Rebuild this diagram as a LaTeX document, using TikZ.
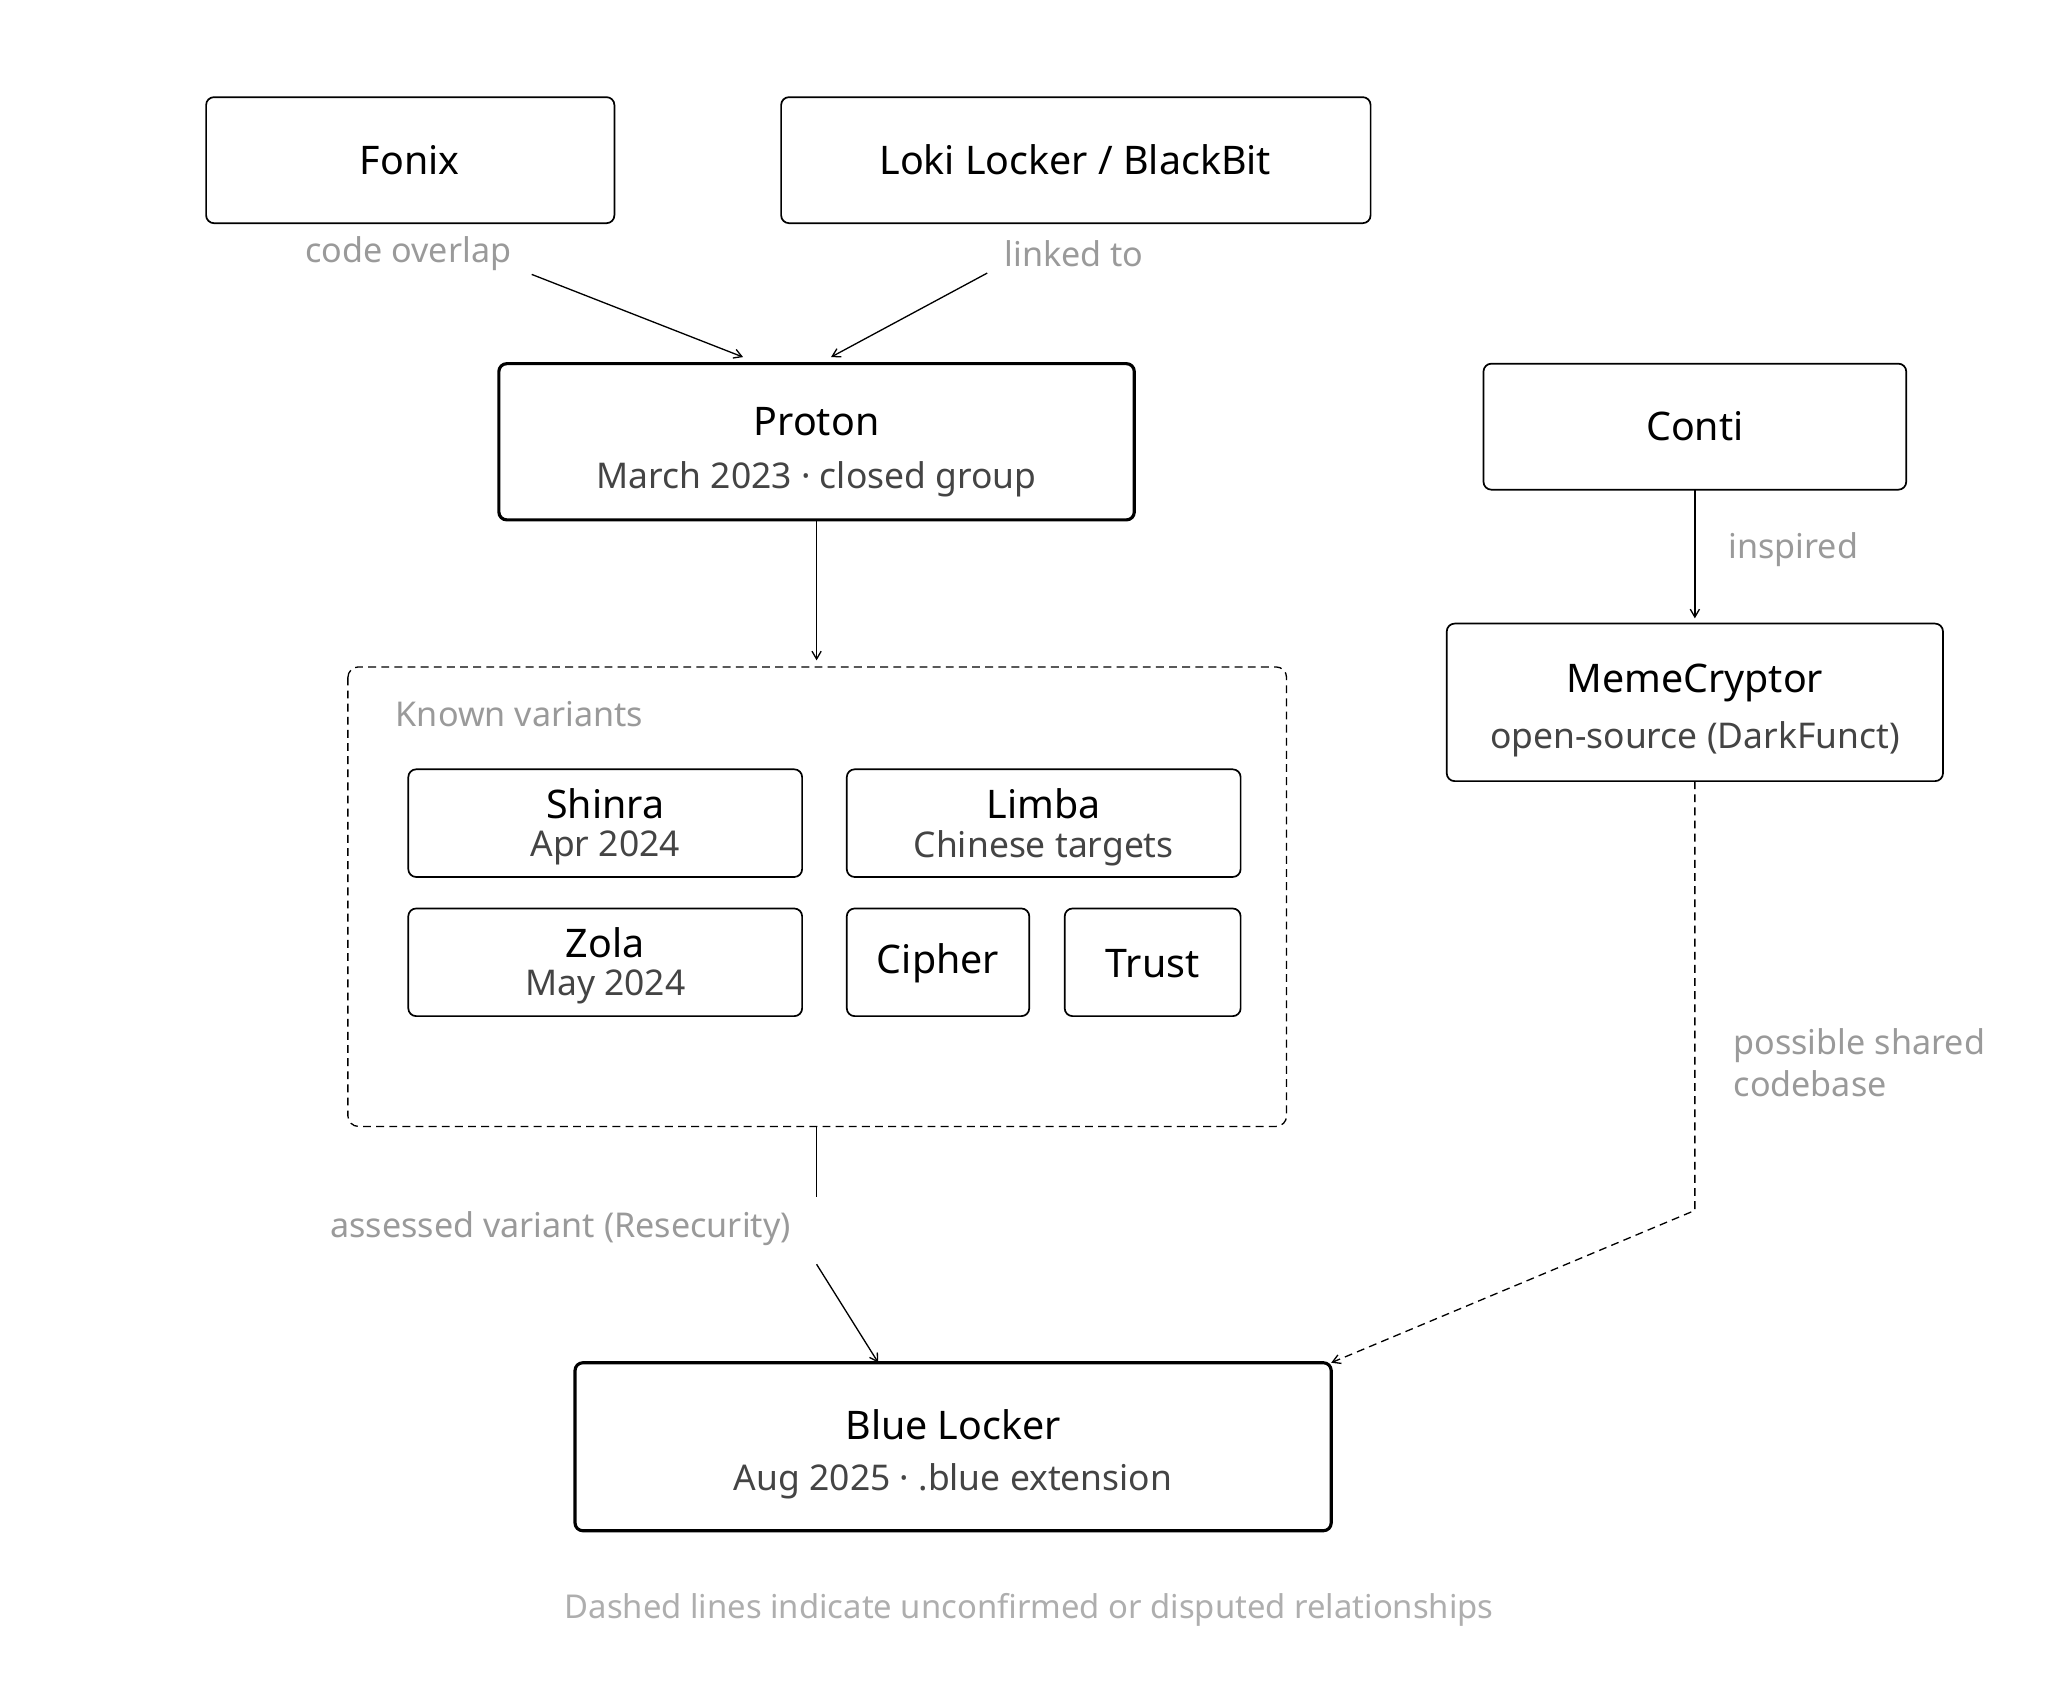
\documentclass[tikz,border=0pt]{standalone}
\usepackage{fontspec}
\setmainfont{Noto Sans}
\usetikzlibrary{arrows.meta}
\definecolor{lbl}{HTML}{9A9A9A}
\definecolor{sub}{HTML}{444444}
\tikzset{
 box/.style={draw=black,line width=1.3pt,rounded corners=6pt},
 bigbox/.style={draw=black,line width=2.4pt,rounded corners=6pt},
 ttl/.style={font=\fontsize{30}{34}\selectfont\bfseries\color{black}},
 subt/.style={font=\fontsize{27}{31}\selectfont\color{sub}},
 lab/.style={font=\fontsize{26}{32}\selectfont\color{lbl}},
 arr/.style={draw=black,line width=1pt,-{Straight Barb[length=6pt,width=7pt]}},
}
\begin{document}
\begin{tikzpicture}[x=1pt,y=-1pt]
\useasboundingbox (0,0) rectangle (1560,1285);
% top boxes
\draw[box] (157,74) rectangle (468,170); \node[ttl] (fonix) at (312,122) {Fonix};
\draw[box] (595,74) rectangle (1044,170); \node[ttl] (loki) at (819,122) {Loki Locker / BlackBit};
\node[lab] (l1) at (311,193) {code overlap};
\node[lab] (l2) at (818,193) {linked to};
% proton
\draw[bigbox] (380,277) rectangle (864,396);
\node[ttl] (proton) at (622,321) {Proton};
\node[subt] at (622,365) {March 2023 · closed group};
\coordinate (pt1) at (566,272); \coordinate (pt2) at (633,272);
\coordinate (s1) at (405,209); \coordinate (s2) at (752,208);
\draw[arr] (s1) -- (pt1); \draw[arr] (s2) -- (pt2);
% conti
\draw[box] (1130,277) rectangle (1452,373); \node[ttl] (conti) at (1291,325) {Conti};
\node[lab,anchor=west] at (1313,419) {inspired};
\coordinate (c1) at (1291,373); \coordinate (m1) at (1291,471);
\draw[arr] (c1) -- (m1);
\draw[box] (1102,475) rectangle (1480,595);
\node[ttl] (meme) at (1291,520) {MemeCryptor};
\node[subt] at (1291,563) {open-source (DarkFunct)};
% container
\draw[line width=1pt,dash pattern=on 6pt off 4pt,rounded corners=8pt] (265,508) rectangle (980,858);
\node[lab,anchor=west] at (298,544) {Known variants};
\coordinate (p1) at (622,396); \coordinate (k1) at (622,503);
\draw[arr] (p1) -- (k1);
\draw[box] (311,586) rectangle (611,668);
\node[ttl] (shinra) at (461,612) {Shinra}; \node[subt] at (461,646) {Apr 2024};
\draw[box] (645,586) rectangle (945,668);
\node[ttl] (limba) at (795,612) {Limba}; \node[subt] at (795,646) {Chinese targets};
\draw[box] (311,692) rectangle (611,774);
\node[ttl] (zola) at (461,718) {Zola}; \node[subt] at (461,752) {May 2024};
\draw[box] (645,692) rectangle (784,774); \node[ttl] (cipher) at (714.5,734) {Cipher};
\draw[box] (811,692) rectangle (945,774); \node[ttl] (trust) at (878,734) {Trust};
% assessed
\coordinate (k2) at (622,858); \coordinate (k3) at (622,912);
\draw[line width=1pt] (k2) -- (k3);
\node[lab] at (427,936) {assessed variant (Resecurity)};
\coordinate (k4) at (622,963); \coordinate (b1) at (669,1038);
\draw[arr] (k4) -- (b1);
% blue locker
\draw[bigbox] (438,1038) rectangle (1014,1166);
\node[ttl] (blue) at (726,1085) {Blue Locker};
\node[subt] at (726,1128) {Aug 2025 · .blue extension};
% dashed
\coordinate (m2) at (1291,595); \coordinate (m3) at (1291,922); \coordinate (b2) at (1014,1038);
\draw[arr,dash pattern=on 6pt off 4pt] (m2) -- (m3) -- (b2);
\node[lab,anchor=north west,align=left] at (1317,780) {possible shared\\codebase};
\node[lab,font=\fontsize{25}{30}\selectfont\color{lbl!80}] at (784,1226) {Dashed lines indicate unconfirmed or disputed relationships};
\end{tikzpicture}
\end{document}
